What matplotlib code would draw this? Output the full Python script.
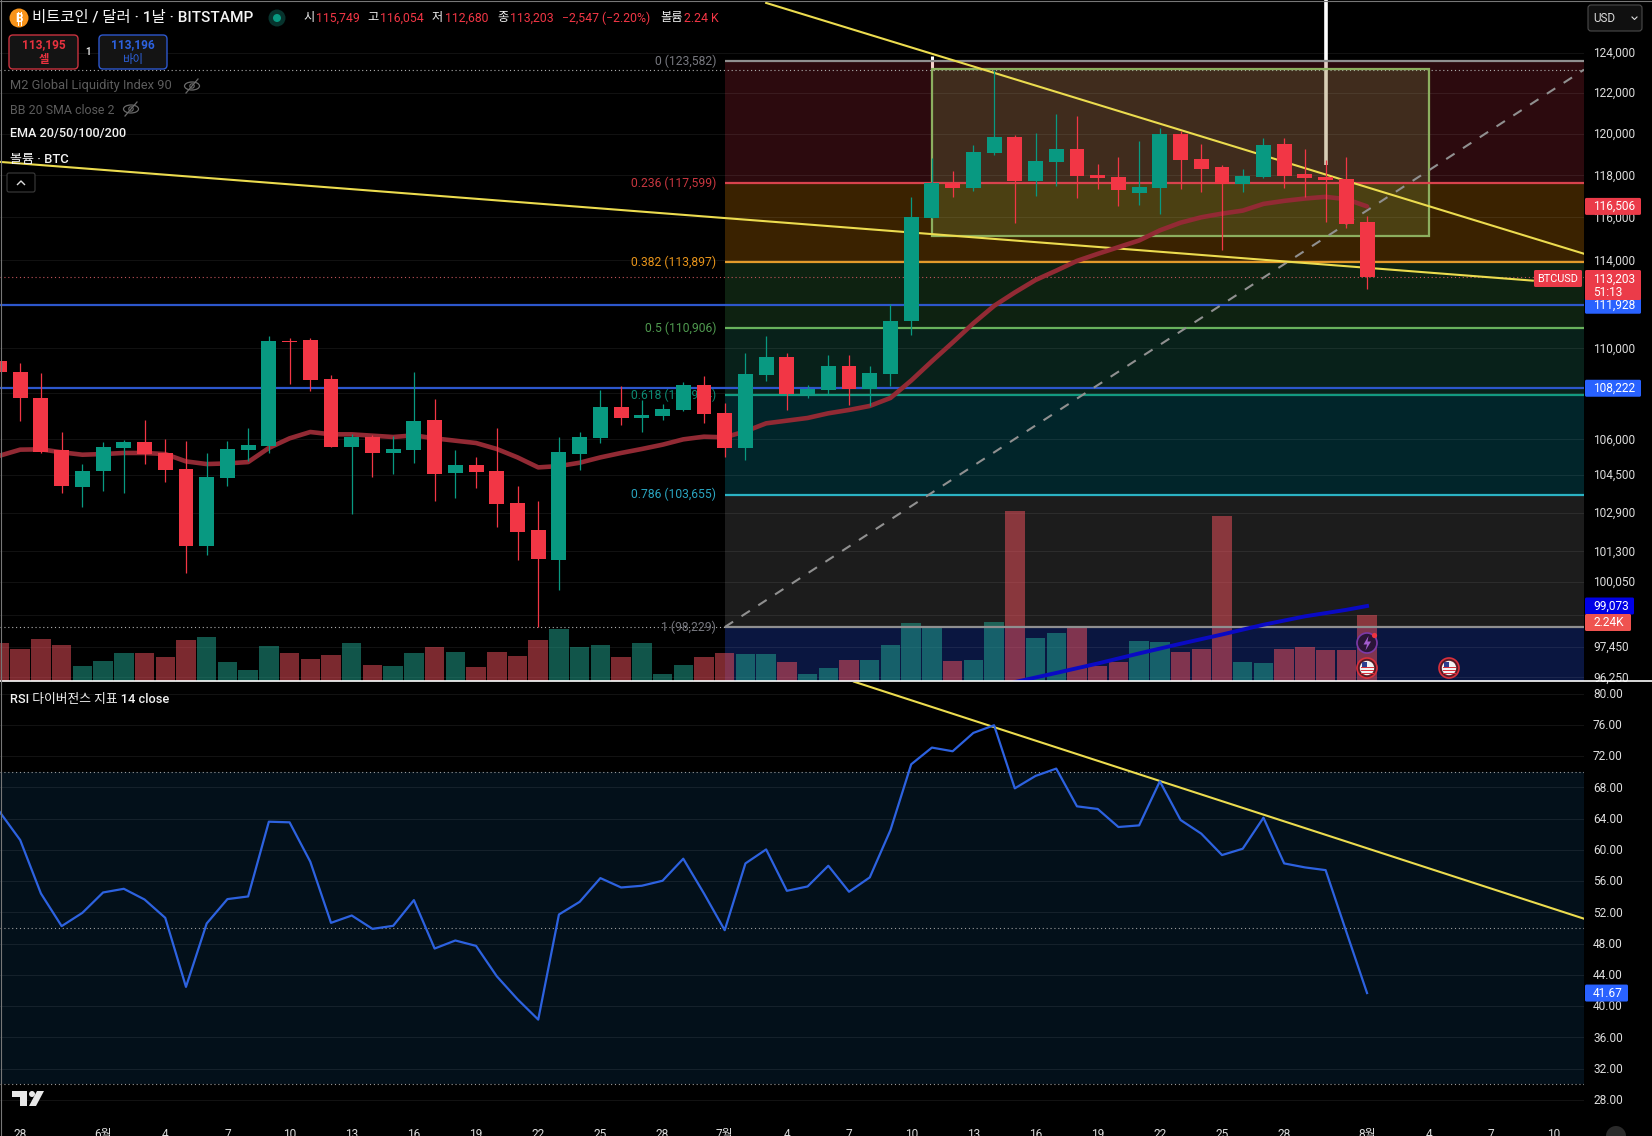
import matplotlib
matplotlib.use("Agg")
import matplotlib.pyplot as plt
from matplotlib.patches import Rectangle, FancyBboxPatch, Circle, Ellipse, Polygon
from matplotlib.transforms import ScaledTranslation

plt.rcParams['font.family'] = ['Roboto', 'Noto Sans CJK KR', 'DejaVu Sans']
plt.rcParams['axes.unicode_minus'] = False

W, H = 1652, 1136
FIRST_DAY = -1
opens = [109446,108957,107812,105560,103958,104632,105645,105901,105433,104745,101518,104363,105560,105731,110330,110340,108649,105688,106117,105433,105560,106853,104575,104916,104660,103307,102179,100941,105390,106074,107418,106940,107027,107288,108385,107157,105645,108825,109624,107988,108164,109225,108207,108869,111217,115945,117599,117374,119062,119843,117710,118626,119257,117997,117901,117135,117374,119989,118771,118384,117560,117901,119500,118046,117901,117806,115749]
highs = [109446,109328,108898,106333,104945,105887,105987,106838,106031,105944,105433,105944,106506,110560,110430,110430,108825,106232,106203,106160,108957,107768,105560,105258,106506,104028,103391,106117,106333,108164,108341,107724,107549,108517,108781,107563,109801,110520,109801,108385,109712,109712,109225,111966,116943,118800,118191,119451,123115,119940,120038,120974,120874,118529,118869,119647,120284,120137,119500,118481,118287,119793,119793,119257,118723,118869,116054]
lows = [108930,106809,105404,103700,103153,103812,103700,104959,104196,100423,101160,104000,105059,105404,108400,108119,105688,102822,104377,104532,105002,103391,103518,103944,102305,100941,98229,99717,104703,105858,106635,106333,106853,107244,106722,105258,105130,108561,107288,107812,107944,107505,107461,108341,110584,115945,116943,117230,118966,115709,116991,117469,116896,117325,116514,116562,116135,117325,117183,114487,117183,117854,117374,116943,115756,115472,112680]
closes = [108930,107783,105475,104000,104660,105688,105901,105390,104703,101518,104405,105603,105773,110295,110280,108605,105688,106117,105433,105603,106809,104532,104916,104618,103265,102096,100982,105475,106117,107418,106940,107070,107331,108385,107113,105645,108869,109624,107988,108207,109225,108207,108913,111217,115993,117599,117374,119110,119843,117710,118675,119257,117951,117854,117277,117422,119989,118723,118287,117560,117951,119451,117951,117854,117757,115661,113203]
ema = [105300,105560,105574,105447,105343,105372,105418,105418,105372,105059,104945,104973,105030,105631,106045,106319,106218,106218,106160,106103,106174,106045,105944,105844,105589,105229,104803,104859,105002,105229,105418,105589,105773,106002,106117,106089,106347,106693,106809,106925,107128,107274,107447,107797,108561,109416,110250,111111,111900,112510,113079,113510,113959,114285,114596,114908,115379,115739,115993,116166,116308,116625,116768,116879,116959,116847,116506]
volume_k = [1.28,1.09,1.43,1.23,.52,.69,.96,.96,.82,1.40,1.50,.65,.38,1.19,.96,.75,.89,1.29,.55,.52,.96,1.16,.99,.48,.99,.86,1.40,1.77,1.16,1.23,.82,1.29,.25,.55,.82,.96,.92,.92,.65,.25,.45,.72,.72,1.23,1.97,1.87,.69,.72,2.00,5.75,1.46,1.63,1.87,.52,.65,1.36,1.33,.99,1.09,5.58,.65,.62,1.09,1.16,1.06,1.06,2.24]
rsi = [64.9,61.26,54.42,50.24,51.94,54.55,55.02,53.65,51.30,42.46,50.58,53.70,54.04,63.61,63.53,58.49,50.66,51.60,49.89,50.28,53.57,47.37,48.40,47.71,43.82,40.88,38.27,51.73,53.35,56.39,55.19,55.41,56.05,58.87,54.42,49.72,58.27,60.06,54.76,55.32,57.97,54.64,56.48,62.54,70.96,73.10,72.63,74.98,75.96,67.88,69.47,70.41,65.58,65.24,62.93,63.14,68.78,63.83,62.08,59.34,60.15,64.12,58.27,57.76,57.41,49.51,41.67]
days = list(range(FIRST_DAY, FIRST_DAY + len(opens)))

blue_days = [48,50,52,54,56,58,60,62,64,65]
blue_values = [96063,96420,96789,97186,97568,97935,98323,98658,98920,99073]

fib_price = [123582, 117599, 113897, 110906, 107914, 103655, 98229]
fib_text = ['0 (123,582)', '0.236 (117,599)', '0.382 (113,897)', '0.5 (110,906)', '0.618 (107,914)', '0.786 (103,655)', '1 (98,229)']
fib_line = ['#8f8f8f', '#d8434d', '#e39a2b', '#69b25c', '#139a80', '#2bb3c4', '#8f8f8f']
fib_label = ['#77787f', '#c8363f', '#e8941a', '#4f9a4f', '#0d8a74', '#2aa5c0', '#77787f']
fib_fill = ['#2c0a0e', '#3a2200', '#0e2211', '#08211a', '#01252a', '#1c1c1c', '#0a1640']

price_ticks = [124000,122000,120000,118000,116000,114000,112000,110000,108000,106000,104500,102900,101300,100050,98700,97450,96250]
price_tick_text = ['124,000','122,000','120,000','118,000','116,000','114,000','','110,000','','106,000','104,500','102,900','101,300','100,050','','97,450','96,250']
rsi_ticks = [80,76,72,68,64,60,56,52,48,44,40,36,32,28]
time_days = [0,4,7,10,13,16,19,22,25,28,31,34,37,40,43,46,49,52,55,58,61,65,68,71,74]
time_text = ['28','6월','4','7','10','13','16','19','22','25','28','7월','4','7','10','13','16','19','22','25','28','8월','4','7','10']

GREEN, RED = '#089981', '#F23645'
YELLOW = '#ecdc4f'
LEVEL_BLUE = '#2d57cc'

fig = plt.figure(figsize=(W/100, H/100), dpi=100, facecolor='black')
def rect(x0, y0, x1, y1):
    return [x0/W, 1-y1/H, (x1-x0)/W, (y1-y0)/H]

main_box = rect(0, 0, 1584, 681)
XLIM = (-0.975, 75.47)
PLIM = (96105, 126680)
label_up = ScaledTranslation(0, 0.7/100, fig.dpi_scale_trans)

# background layer: grid + fib bands
ax_bg = fig.add_axes(main_box, facecolor='black', zorder=1)
ax_bg.set_yscale('log'); ax_bg.set_xlim(XLIM); ax_bg.set_ylim(PLIM)
ax_bg.set_xticks([]); ax_bg.set_yticks(price_ticks); ax_bg.minorticks_off()
ax_bg.tick_params(left=False, labelleft=False)
ax_bg.grid(True, axis='y', color='white', alpha=0.07, lw=0.8)
for s in ax_bg.spines.values(): s.set_visible(False)
bands = fib_price[1:] + [PLIM[0]]
for top, bot, c in zip(fib_price, bands, fib_fill):
    ax_bg.fill_between([34, XLIM[1]], bot, top, color=c, lw=0, zorder=0.5)
ax_bg.set_axisbelow(False)

# volume layer
ax_vol = fig.add_axes(main_box, zorder=2)
ax_vol.patch.set_alpha(0)
ax_vol.set_xlim(XLIM); ax_vol.set_ylim(0, 23.0); ax_vol.axis('off')
vol_colors = ['#F7525F' if c < o else '#22AB94' for o, c in zip(opens, closes)]
ax_vol.bar(days, volume_k, width=0.94, color=vol_colors, alpha=0.5, lw=0)

# main layer
ax = fig.add_axes(main_box, zorder=3)
ax.patch.set_alpha(0)
ax.set_yscale('log'); ax.set_xlim(XLIM); ax.set_ylim(PLIM)
for s in ax.spines.values(): s.set_visible(False)
ax.set_xticks([])
ax.yaxis.tick_right()
ax.set_yticks(price_ticks, price_tick_text)
ax.minorticks_off()
ax.tick_params(axis='y', length=0, pad=6.5, labelsize=8.6, labelcolor='#dcdcdc')
for lab in ax.get_yticklabels():
    lab.set_transform(lab.get_transform() + label_up)

# dotted price lines
ax.hlines(123150, XLIM[0], XLIM[1], color='#b0b0b0', lw=0.8, ls=(0, (1, 2.5)), zorder=1)
ax.hlines(113203, XLIM[0], XLIM[1], color='#c2545a', lw=0.8, ls=(0, (1, 2.5)), zorder=1)
ax.hlines(98229, XLIM[0], 34, color='#b0b0b0', lw=0.8, ls=(0, (1, 2.5)), zorder=1)

# vertical markers: white over black, tinted where they run under the fib fill and box
ax.vlines(44, 123582, 123830, color='white', lw=2.2, zorder=1.1)
ax.vlines(44, 123150, 123582, color='#f5d2cc', lw=2.2, zorder=1.1)
ax.vlines(63, 123582, PLIM[1], color='white', lw=2.6, zorder=1.1)
ax.vlines(63, 118500, 123582, color='#e6cfc8', lw=2.6, zorder=1.1)

# box
ax.add_patch(Rectangle((44, 115100), 24, 123200-115100, fc='#9ccc65', alpha=0.18, ec='none', zorder=1.2))
ax.add_patch(Rectangle((44, 115100), 24, 123200-115100, fc='none', ec='#8caf5f', lw=1.6, zorder=1.3))

# fib lines + labels
for p, c, t, lc in zip(fib_price, fib_line, fib_text, fib_label):
    ax.hlines(p, 34, XLIM[1], color=c, lw=1.6, zorder=1.5)
    ax.text(33.58, p, t, ha='right', va='center', fontsize=8.7, color=lc, zorder=1.5)
ax.hlines([111928], XLIM[0], XLIM[1], color=LEVEL_BLUE, lw=1.6, zorder=1.6)
ax.hlines([108222], XLIM[0], XLIM[1], color=LEVEL_BLUE, lw=1.6, zorder=1.6)

# drawings
ax.plot([34, XLIM[1]], [98229, 123150], color='#909090', lw=1.5, dashes=(4.8, 4.8), zorder=1.7)
ax.plot([36, XLIM[1]], [126530, 114290], color=YELLOW, lw=1.5, zorder=1.8)
ax.plot([-1, 73], [118630, 113050], color=YELLOW, lw=1.5, zorder=1.8)

# ema lines
ax.plot(blue_days, blue_values, color='#0a0ac4', lw=2.8, zorder=2)
ax.plot(days, ema, color='#922A34', lw=3.3, zorder=2.1, solid_capstyle='round')

# candles
c_colors = [RED if c < o else GREEN for o, c in zip(opens, closes)]
ax.vlines(days, lows, highs, colors=c_colors, lw=0.9, zorder=3)
tops = [max(o, c) for o, c in zip(opens, closes)]
bots = [min(o, c) for o, c in zip(opens, closes)]
ax.bar(days, [t-b for t, b in zip(tops, bots)], bottom=bots, width=0.72, color=c_colors, lw=0, zorder=3.1)

# RSI panel
ax_r = fig.add_axes(rect(0, 682, 1584, 1120), facecolor='black', zorder=1)
ax_r.set_xlim(XLIM)
ax_r.set_ylim(80-(1120-693.7)/7.81, 80+(693.7-682)/7.81)
for s in ax_r.spines.values(): s.set_visible(False)
ax_r.axhspan(30, 70, color='#03101a', lw=0, zorder=0.2)
ax_r.yaxis.tick_right()
ax_r.set_yticks(rsi_ticks, [f'{v:.2f}' for v in rsi_ticks])
ax_r.set_xticks(time_days, time_text)
ax_r.tick_params(axis='y', length=0, pad=6.5, labelsize=8.6, labelcolor='#dcdcdc')
ax_r.tick_params(axis='x', length=0, pad=5.8, labelsize=8.6, labelcolor='#dcdcdc')
for lab in ax_r.get_yticklabels():
    lab.set_transform(lab.get_transform() + label_up)
ax_r.grid(True, axis='y', color='white', alpha=0.075, lw=0.8, zorder=0.4)
ax_r.set_axisbelow(True)
ax_r.hlines([70, 50, 30], XLIM[0], XLIM[1], color='#9a9a9a', lw=0.8, ls=(0, (1, 2.5)), zorder=1)
ax_r.plot([40.24, XLIM[1]], [81.54, 51.19], color=YELLOW, lw=1.5, zorder=2)
ax_r.plot(days, rsi, color='#2d62e0', lw=1.6, zorder=3)

# overlay: interface chrome in pixel coordinates
ov = fig.add_axes([0, 0, 1, 1], zorder=10)
ov.set_xlim(0, W); ov.set_ylim(H, 0); ov.axis('off'); ov.patch.set_alpha(0)

def py(a, v):
    return H - a.transData.transform((0, v))[1]

def tag(axis, v, text, fc, x0=1585, x1=1641, h=17, tc='white'):
    y = py(axis, v)
    ov.add_patch(FancyBboxPatch((x0, y-h/2), x1-x0, h, boxstyle='round,pad=0,rounding_size=1.5', fc=fc, ec='none'))
    ov.text(x0+8, y, text, color=tc, fontsize=8.6, va='center', ha='left')

tag(ax, 116506, '116,506', '#EB3B49')
tag(ax, 111928, '111,928', '#2962FF')
tag(ax, 108222, '108,222', '#2962FF')
tag(ax, 99073, '99,073', '#0000E6', x1=1634)
tag(ax_r, 41.67, '41.67', '#2962FF', x1=1628)
y_v = 622.5
ov.add_patch(FancyBboxPatch((1585, y_v-8.5), 46, 17, boxstyle='round,pad=0,rounding_size=1.5', fc='#EF5350', ec='none'))
ov.text(1593, y_v, '2.24K', color='white', fontsize=8.6, va='center')
ov.add_patch(FancyBboxPatch((1585, 270), 56, 30, boxstyle='round,pad=0,rounding_size=1.5', fc='#EB3B49', ec='none'))
ov.text(1593, 279, '113,203', color='white', fontsize=8.6, va='center')
ov.text(1593, 292, '51:13', color='white', fontsize=8.6, va='center')
ov.add_patch(FancyBboxPatch((1534, 270), 48, 17, boxstyle='round,pad=0,rounding_size=1.5', fc='#EB3B49', ec='none'))
ov.text(1558, 278.5, 'BTCUSD', color='white', fontsize=7.8, va='center', ha='center')

# USD selector
ov.add_patch(FancyBboxPatch((1588, 5), 54, 26, boxstyle='round,pad=0,rounding_size=3', fc='#101010', ec='#4a4a4a', lw=0.8))
ov.text(1593, 18, 'USD', color='#dcdcdc', fontsize=8.4, va='center')
ov.plot([1632, 1634.5, 1637], [17, 19.5, 17], color='#dcdcdc', lw=0.8)

# header: the bitcoin sign has no installed glyph, so it is a B with two small strokes
ov.add_patch(Circle((19, 18), 9.5, fc='#F7931A', ec='none'))
ov.text(19, 18, 'B', color='white', fontsize=8.5, ha='center', va='center', weight='bold')
ov.plot([18.3, 18.3], [11.5, 24.5], color='white', lw=0.7)
ov.plot([20.5, 20.5], [11.5, 24.5], color='white', lw=0.7)
ov.text(32, 18, '비트코인 / 달러 · 1날 · BITSTAMP', color='#f4f4f4', fontsize=11.1, va='center', weight='medium')
ov.add_patch(Circle((277, 18), 8.5, fc='#07332d', ec='none'))
ov.add_patch(Circle((277, 18), 4, fc='#089981', ec='none'))
for x, t, c in [(303, '시', '#eeeeee'), (316, '115,749', RED), (367, '고', '#eeeeee'), (380, '116,054', RED),
                (432, '저', '#eeeeee'), (445, '112,680', RED), (497, '종', '#eeeeee'), (510, '113,203', RED),
                (562, '−2,547 (−2.20%)', RED), (660, '볼륨', '#eeeeee'), (684, '2.24 K', RED)]:
    ov.text(x, 18, t, color=c, fontsize=8.8, va='center')

# buy / sell
ov.add_patch(FancyBboxPatch((9, 35), 69, 34, boxstyle='round,pad=0,rounding_size=4', fc='#141414', ec='#c8323e', lw=1))
ov.add_patch(FancyBboxPatch((99, 35), 68, 34, boxstyle='round,pad=0,rounding_size=4', fc='#141414', ec='#2d57cc', lw=1))
ov.text(43.5, 45, '113,195', color='#e8323f', fontsize=8.6, ha='center', va='center', weight='bold')
ov.text(43.5, 59, '셀', color='#e8323f', fontsize=8.2, ha='center', va='center', weight='bold')
ov.text(133, 45, '113,196', color='#2d62e0', fontsize=8.6, ha='center', va='center', weight='bold')
ov.text(133, 59, '바이', color='#2d62e0', fontsize=8.2, ha='center', va='center')
ov.text(88, 52, '1', color='#dcdcdc', fontsize=7, ha='center', va='center', weight='bold')

# legend lines
def eye(x, y):
    ov.add_patch(Ellipse((x, y), 15, 8, fc='none', ec='#6a6a6a', lw=0.9))
    ov.add_patch(Circle((x, y), 2.2, fc='none', ec='#6a6a6a', lw=0.8))
    ov.plot([x-6, x+6], [y+7, y-7], color='#6a6a6a', lw=0.9)
ov.text(10, 86, 'M2 Global Liquidity Index 90', color='#5c5c5c', fontsize=9.3, va='center')
eye(192, 86)
ov.text(10, 110, 'BB 20 SMA close 2', color='#5c5c5c', fontsize=8.9, va='center')
eye(131, 109)
ov.text(10, 134, 'EMA 20/50/100/200', color='#f2f2f2', fontsize=9.1, va='center', weight='medium')
ov.text(10, 159, '볼륨 · BTC', color='#f2f2f2', fontsize=9.4, va='center', weight='medium')
ov.add_patch(FancyBboxPatch((7, 173), 28, 19, boxstyle='round,pad=0,rounding_size=2', fc='black', ec='#3c3c3c', lw=0.8))
ov.plot([17.5, 21, 24.5], [184.5, 181, 184.5], color='#dcdcdc', lw=1)
ov.text(10, 699, 'RSI 다이버전스 지표 14 close', color='#f2f2f2', fontsize=9.2, va='center', weight='medium')

# separators
ov.plot([0, W], [681, 681], color='white', lw=1.2)
ov.plot([0, W], [0.5, 0.5], color='#777777', lw=0.8)
ov.plot([0.5, 0.5], [0, H], color='#777777', lw=0.8)

# event markers
def flag(x, y):
    ov.add_patch(Circle((x, y), 10, fc='#5a1a24', ec='#d9303c', lw=1.2))
    ov.add_patch(Circle((x, y), 7.2, fc='#f2f2f2', ec='none'))
    for dy in (-1.5, 1.5, 4.5):
        ov.add_patch(Rectangle((x-6.5, y+dy), 13, 1.4, fc='#d9303c', ec='none'))
    ov.add_patch(Rectangle((x-5, y-6), 5, 5, fc='#2d3f8f', ec='none'))
ov.add_patch(Circle((1367, 643), 10, fc='#2a1538', ec='#7c3aa8', lw=1.2))
ov.add_patch(Polygon([(1368.5, 636), (1363.5, 644.5), (1367, 644.5), (1365.5, 650.5), (1371, 641.5), (1367.5, 641.5)], fc='#a45cd0', ec='none'))
ov.add_patch(Circle((1374.5, 635.5), 2.6, fc='#ef3340', ec='none'))
flag(1367, 668)
flag(1449, 668)

# logo
ov.add_patch(Polygon([(12, 1091), (27, 1091), (27, 1106), (20, 1106), (20, 1097), (12, 1097)], fc='#e8e8e8', ec='none'))
ov.add_patch(Circle((32, 1094), 3, fc='#e8e8e8', ec='none'))
ov.add_patch(Polygon([(37, 1091), (44, 1091), (36, 1106), (29, 1106)], fc='#e8e8e8', ec='none'))
ov.add_patch(Circle((1616, 1136), 10, fc='#2a2a2a', ec='none'))

fig.savefig('out.png', dpi=100, facecolor='black')
